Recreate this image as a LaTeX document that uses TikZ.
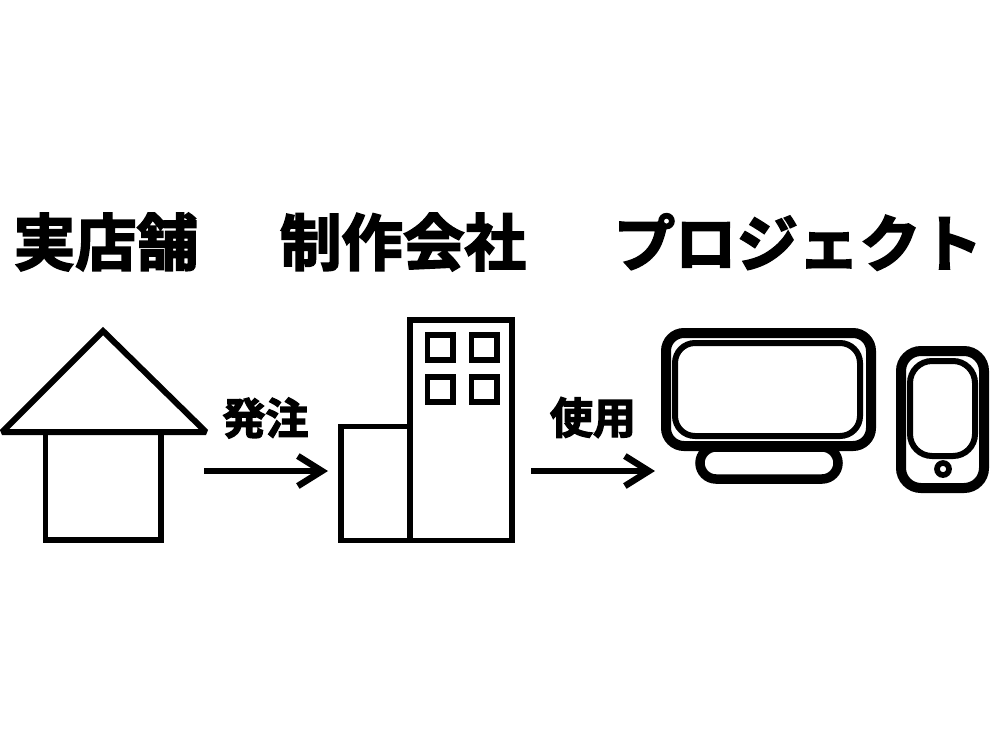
\documentclass[tikz,border=0pt]{standalone}
\usepackage{fontspec}
\usetikzlibrary{arrows.meta}
\newfontfamily\cjk[FakeBold=3]{Noto Sans CJK JP Bold}

\begin{document}
\begin{tikzpicture}[
    x=1pt,y=-1pt,
    title/.style={font=\cjk\fontsize{61.5}{62}\selectfont,inner sep=0pt,outer sep=0pt},
    verb/.style={font=\cjk\fontsize{43}{43}\selectfont,inner sep=0pt,outer sep=0pt},
    wall/.style={draw,line width=5.5pt,inner sep=0pt,outer sep=0pt},
    casing/.style={wall,fill=white,line width=10pt,rounded corners=18pt},
    screen/.style={wall,line width=6pt,rounded corners=20pt},
    dependency/.style={line width=5.5pt,-{Straight Barb[length=24pt,width=30pt,line width=6.5pt]}},
  ]
  \useasboundingbox (0,0) rectangle (1000,750);

  % headings
  \node[title] (shop-title) at (106,242) {実店舗};
  \node[title] (company-title) at (403,242) {制作会社};
  \node[title] (project-title) at (798,242) {プロジェクト};

  % shop
  \draw[line width=6pt,miter limit=2] (2,432) -- (103,331) -- (206,432) -- cycle;
  \node[wall,minimum width=115.5pt,minimum height=108pt] (shop-body) at (103.25,486) {};

  % company building
  \node[wall,minimum width=69pt,minimum height=114pt] (company-low) at (375.5,483.5) {};
  \node[wall,minimum width=102pt,minimum height=220.5pt] (company-high) at (461,430.25) {};
  \foreach \x/\y in {440/347.5,484/347.5,440/389.5,484/389.5} {
    \node[wall,minimum width=25.5pt,minimum height=25pt] (window-\x-\y) at (\x,\y) {};
  }

  % computer and phone
  \node[casing,line width=9.5pt,rounded corners=16pt,minimum width=138pt,minimum height=32pt] (stand) at (769,463) {};
  \node[casing,minimum width=205pt,minimum height=113pt] (monitor) at (768.5,389.5) {};
  \node[screen,minimum width=185pt,minimum height=93pt] (monitor-screen) at (767.5,389.5) {};
  \node[casing,rounded corners=20pt,minimum width=83pt,minimum height=137pt] (phone) at (942.5,419.5) {};
  \node[screen,rounded corners=22pt,minimum width=65pt,minimum height=95pt] (phone-screen) at (942.5,408.5) {};
  \node[draw,circle,line width=5.7pt,inner sep=0pt,outer sep=0pt,minimum size=12pt] (phone-button) at (943,469) {};

  % orders and use
  \coordinate (order-from) at (204,471);
  \coordinate (order-to) at (328,471);
  \coordinate (use-from) at (531,471);
  \coordinate (use-to) at (655,471);
  \draw[dependency] (order-from) -- (order-to);
  \draw[dependency] (use-from) -- (use-to);
  \node[verb] (order-label) at (265.5,418) {発注};
  \node[verb] (use-label) at (593,417.5) {使用};

\end{tikzpicture}
\end{document}
